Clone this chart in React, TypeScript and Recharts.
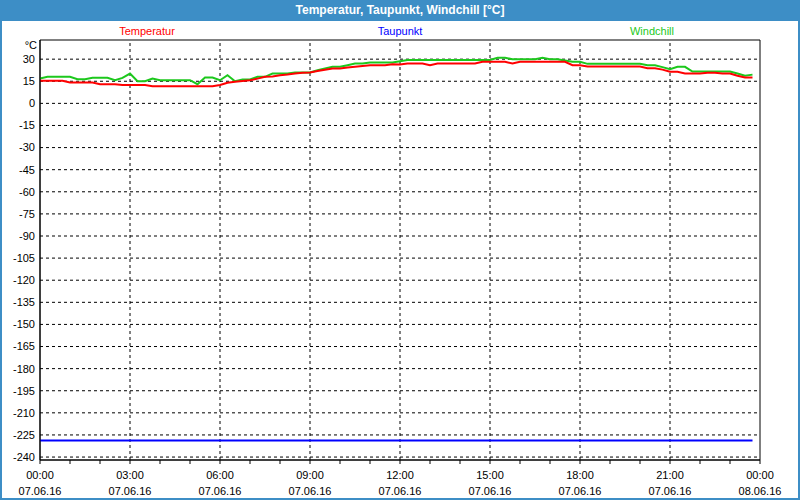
import {
  LineChart,
  Line,
  XAxis,
  YAxis,
  ReferenceLine,
  ReferenceArea,
} from "recharts";

// 15-minute readings, 07.06.16 00:00 .. 23:45
const temperatur = [
  15.3, 15.3, 15.3, 15.3, 14.1, 14.1, 14.1, 14.1, 13.0, 13.0, 13.0, 12.4,
  12.4, 12.4, 12.4, 11.7, 11.7, 11.7, 11.7, 11.7, 11.7, 11.7, 11.7, 11.7,
  12.5, 14.0, 14.6, 15.2, 15.7, 16.8, 18.0, 18.3, 19.1, 19.6, 20.3, 20.7,
  20.9, 21.9, 22.8, 23.6, 23.6, 24.3, 24.8, 25.3, 25.9, 25.9, 25.9, 26.6,
  26.3, 27.0, 27.0, 27.0, 25.9, 27.0, 27.0, 27.0, 27.0, 27.0, 27.0, 28.2,
  28.2, 28.2, 28.2, 27.0, 28.2, 28.2, 28.2, 28.2, 28.2, 28.2, 28.2, 25.9,
  25.9, 25.0, 25.0, 25.0, 25.0, 25.0, 25.0, 25.0, 25.0, 23.9, 23.9, 22.9,
  21.4, 21.4, 20.3, 20.3, 20.3, 20.7, 20.7, 20.3, 20.3, 18.7, 17.5, 17.5,
];

const windchill = [
  16.9, 18.0, 18.0, 18.0, 18.0, 16.4, 16.4, 17.3, 17.3, 17.3, 15.7, 17.3,
  20.2, 15.0, 15.0, 16.9, 15.7, 15.7, 15.7, 15.7, 15.7, 13.0, 17.5, 17.5,
  15.7, 19.1, 15.0, 16.2, 16.2, 18.0, 18.0, 20.2, 20.2, 20.2, 20.9, 20.9,
  20.9, 22.5, 23.6, 24.8, 24.8, 25.9, 27.0, 27.0, 27.7, 27.7, 27.7, 27.7,
  28.6, 29.5, 29.5, 29.5, 29.5, 29.5, 29.5, 29.5, 29.5, 29.5, 29.5, 29.5,
  29.5, 30.9, 30.9, 30.0, 30.0, 30.0, 30.0, 30.9, 30.0, 30.0, 29.1, 28.2,
  28.2, 26.8, 26.8, 26.8, 26.8, 26.8, 26.8, 26.8, 26.8, 25.9, 25.9, 24.6,
  23.2, 24.8, 24.8, 21.6, 21.6, 21.6, 21.6, 21.6, 21.6, 20.3, 18.7, 19.5,
];

const taupunkt = [
  -228.7, -228.7, -228.7, -228.7, -228.7, -228.7, -228.7, -228.7, -228.7, -228.7, -228.7, -228.7,
  -228.7, -228.7, -228.7, -228.7, -228.7, -228.7, -228.7, -228.7, -228.7, -228.7, -228.7, -228.7,
  -228.7, -228.7, -228.7, -228.7, -228.7, -228.7, -228.7, -228.7, -228.7, -228.7, -228.7, -228.7,
  -228.7, -228.7, -228.7, -228.7, -228.7, -228.7, -228.7, -228.7, -228.7, -228.7, -228.7, -228.7,
  -228.7, -228.7, -228.7, -228.7, -228.7, -228.7, -228.7, -228.7, -228.7, -228.7, -228.7, -228.7,
  -228.7, -228.7, -228.7, -228.7, -228.7, -228.7, -228.7, -228.7, -228.7, -228.7, -228.7, -228.7,
  -228.7, -228.7, -228.7, -228.7, -228.7, -228.7, -228.7, -228.7, -228.7, -228.7, -228.7, -228.7,
  -228.7, -228.7, -228.7, -228.7, -228.7, -228.7, -228.7, -228.7, -228.7, -228.7, -228.7, -228.7,
];

const yTicks = [
  30, 15, 0, -15, -30, -45, -60, -75, -90, -105, -120, -135, -150, -165,
  -180, -195, -210, -225, -240,
];
const hourTicks = [
  0, 60, 120, 180, 240, 300, 360, 420, 480, 540, 600, 660, 720, 780, 840,
  900, 960, 1020, 1080, 1140, 1200, 1260, 1320, 1380, 1440,
];
const gridHours = [180, 360, 540, 720, 900, 1080, 1260];
const tickTimes = ["00:00", "03:00", "06:00", "09:00", "12:00", "15:00", "18:00", "21:00", "00:00"];
const tickDates = [
  "07.06.16", "07.06.16", "07.06.16", "07.06.16", "07.06.16",
  "07.06.16", "07.06.16", "07.06.16", "08.06.16",
];

const data = temperatur.map((t, i) => ({
  min: i * 15,
  temperatur: t,
  windchill: windchill[i],
  taupunkt: taupunkt[i],
}));

const FONT = "'Liberation Sans', Arial, sans-serif";

const TimeTick = (props: any) => {
  const { x, y, payload } = props;
  if (payload.value % 180 !== 0) return <g />;
  const k = payload.value / 180;
  return (
    <g>
      <text x={x} y={y + 13} textAnchor="middle" fontSize={11} fontFamily={FONT} fill="#000">
        {tickTimes[k]}
      </text>
      <text x={x} y={y + 29} textAnchor="middle" fontSize={11} fontFamily={FONT} fill="#000">
        {tickDates[k]}
      </text>
    </g>
  );
};

export default function App() {
  return (
    <div
      style={{
        position: "fixed",
        left: 0,
        top: 0,
        width: 800,
        height: 500,
        background: "#fff",
        fontFamily: FONT,
        overflow: "hidden",
      }}
    >
      <LineChart
        width={800}
        height={500}
        data={data}
        margin={{ top: 40, right: 40, left: 0, bottom: 0 }}
      >
        <XAxis
          dataKey="min"
          type="number"
          domain={[0, 1440]}
          ticks={hourTicks}
          interval={0}
          tick={<TimeTick />}
          tickSize={4}
          axisLine={{ stroke: "#000" }}
          tickLine={{ stroke: "#000" }}
          height={40}
        />
        <YAxis
          type="number"
          domain={[-242, 43]}
          ticks={yTicks}
          interval={0}
          allowDataOverflow
          width={40}
          tickLine={false}
          tickSize={0}
          tickMargin={5}
          axisLine={{ stroke: "#000" }}
          tick={{ fill: "#000", fontSize: 11, fontFamily: FONT }}
        />
        {yTicks.map((v) => (
          <ReferenceLine key={"h" + v} y={v} stroke="#000" strokeDasharray="3 3" />
        ))}
        {gridHours.map((v) => (
          <ReferenceLine key={"v" + v} x={v} stroke="#000" strokeDasharray="3 3" />
        ))}
        <ReferenceArea
          x1={0}
          x2={1440}
          y1={-242}
          y2={43}
          fill="none"
          fillOpacity={0}
          stroke="#000"
          strokeWidth={1}
        />
        <Line
          dataKey="taupunkt"
          stroke="#0000ff"
          strokeWidth={2}
          dot={false}
          type="linear"
          isAnimationActive={false}
        />
        <Line
          dataKey="windchill"
          stroke="#1cc81c"
          strokeWidth={2}
          dot={false}
          type="linear"
          isAnimationActive={false}
        />
        <Line
          dataKey="temperatur"
          stroke="#ff0000"
          strokeWidth={2}
          dot={false}
          type="linear"
          isAnimationActive={false}
        />
      </LineChart>

      <div
        style={{
          position: "absolute",
          left: 0,
          top: 0,
          width: 800,
          height: 21,
          background: "#3d8ec6",
          color: "#fff",
          fontWeight: "bold",
          fontSize: 12,
          lineHeight: "21px",
          textAlign: "center",
        }}
      >
        Temperatur, Taupunkt, Windchill [°C]
      </div>
      <div
        style={{
          position: "absolute",
          left: 0,
          top: 0,
          width: 800,
          height: 500,
          boxSizing: "border-box",
          border: "2px solid #3d8ec6",
          pointerEvents: "none",
        }}
      />
      <div style={{ position: "absolute", left: 97, width: 100, top: 25, textAlign: "center", fontSize: 11, color: "#ff0000" }}>
        Temperatur
      </div>
      <div style={{ position: "absolute", left: 350, width: 100, top: 25, textAlign: "center", fontSize: 11, color: "#0000ff" }}>
        Taupunkt
      </div>
      <div style={{ position: "absolute", left: 602, width: 100, top: 25, textAlign: "center", fontSize: 11, color: "#1cc81c" }}>
        Windchill
      </div>
      <div style={{ position: "absolute", left: 0, width: 37, top: 39, textAlign: "right", fontSize: 11, color: "#000" }}>
        °C
      </div>
    </div>
  );
}
